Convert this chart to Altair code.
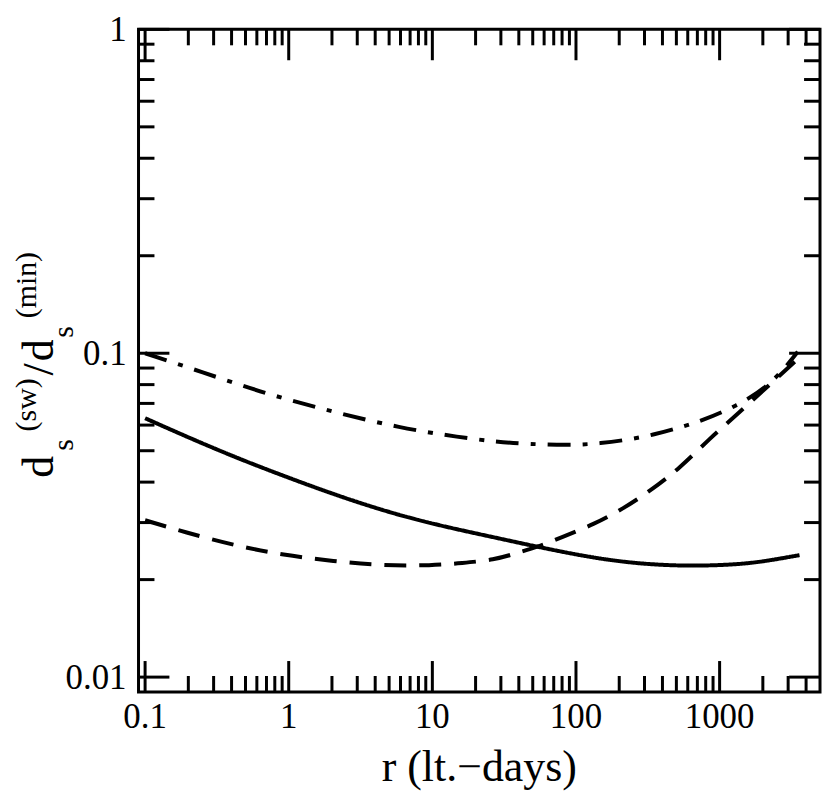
import altair as alt
import pandas as pd

# ---------------- data ----------------
series_names = ["solid", "dashed", "dashdot"]

solid_r = [0.1, 0.19, 0.42, 0.92, 2.05, 4.5, 10, 27, 55, 133, 295, 650, 1450, 2340, 3600]
solid_d = [0.063, 0.0555, 0.0478, 0.0418, 0.0367, 0.0327, 0.0297, 0.0270, 0.0252, 0.0233,
           0.0223, 0.0220, 0.0223, 0.0230, 0.0238]

dashed_r = [0.1, 0.19, 0.42, 0.92, 2.05, 4.5, 10, 16, 27, 39, 54, 79, 133, 215, 329, 530,
            850, 1340, 2300, 3500]
dashed_d = [0.0305, 0.0280, 0.0255, 0.0238, 0.0228, 0.0221, 0.0221, 0.0225, 0.0230, 0.0242,
            0.0252, 0.0270, 0.0296, 0.0332, 0.0376, 0.0442, 0.0545, 0.0650, 0.0810, 0.0960]

dashdot_r = [0.1, 0.245, 0.71, 2.05, 5.9, 16, 27, 46, 97, 148, 226, 347, 515, 760, 1300,
             2300, 3500]
dashdot_d = [0.100, 0.0877, 0.0747, 0.0659, 0.0588, 0.0549, 0.0534, 0.0524, 0.0520, 0.0527,
             0.0540, 0.0560, 0.0588, 0.0620, 0.0685, 0.0800, 0.1010]

x_major = [0.1, 1, 10, 100, 1000]
x_labels = ["0.1", "1", "10", "100", "1000"]
x_minor = [0.2, 0.3, 0.4, 0.5, 0.6, 0.7, 0.8, 0.9,
           2, 3, 4, 5, 6, 7, 8, 9,
           20, 30, 40, 50, 60, 70, 80, 90,
           200, 300, 400, 500, 600, 700, 800, 900,
           2000, 3000, 4000]
y_major = [0.01, 0.1, 1]
y_labels = ["0.01", "0.1", "1"]
y_minor = [0.02, 0.03, 0.04, 0.05, 0.06, 0.07, 0.08, 0.09,
           0.2, 0.3, 0.4, 0.5, 0.6, 0.7, 0.8, 0.9]

x_title = "r (lt.\u2212days)"
y_title_parts = ["d", "s", "(sw)", "/", "d", "s", "(min)"]

# ---------------- layout / style ----------------
W, H = 684, 665
FONT = "Liberation Serif"
MAJ, MIN = 31, 16

rows = []
for name, xs, ys in zip(series_names, [solid_r, dashed_r, dashdot_r],
                        [solid_d, dashed_d, dashdot_d]):
    for k, (a, b) in enumerate(zip(xs, ys)):
        rows.append({"series": name, "r": a, "d": b, "i": k})
df = pd.DataFrame(rows)

xscale = alt.Scale(type="log", domain=[0.09, 5000], nice=False)
yscale = alt.Scale(type="log", domain=[0.009, 1], nice=False)

lines = alt.Chart(df).mark_line(
    strokeWidth=4, color="black", strokeCap="butt", interpolate="basis"
).encode(
    x=alt.X("r:Q", scale=xscale, axis=None),
    y=alt.Y("d:Q", scale=yscale, axis=None),
    strokeDash=alt.StrokeDash("series:N",
                              scale=alt.Scale(domain=series_names,
                                              range=[[1, 0], [22, 13], [23, 12, 5, 12]]),
                              legend=None),
    order="i:Q",
)


def xticks(vals, length):
    d = pd.DataFrame({"v": vals})
    base = alt.Chart(d).mark_rule(color="black", strokeWidth=3)
    enc_x = alt.X("v:Q", scale=xscale, axis=None)
    return [
        base.encode(x=enc_x, y=alt.value(H), y2=alt.value(H - length)),
        base.encode(x=enc_x, y=alt.value(0), y2=alt.value(length)),
    ]


def yticks(vals, length):
    d = pd.DataFrame({"v": vals})
    base = alt.Chart(d).mark_rule(color="black", strokeWidth=3)
    enc_y = alt.Y("v:Q", scale=yscale, axis=None)
    return [
        base.encode(y=enc_y, x=alt.value(0), x2=alt.value(length)),
        base.encode(y=enc_y, x=alt.value(W), x2=alt.value(W - length)),
    ]


def txt(s, px, py, size, angle=270, align="left", baseline="alphabetic"):
    return alt.Chart(alt.Data(values=[{}])).mark_text(
        text=s, font=FONT, fontSize=size, angle=angle, align=align,
        baseline=baseline, color="black"
    ).encode(x=alt.value(px), y=alt.value(py))


ticks = xticks(x_major, MAJ) + xticks(x_minor, MIN) + yticks(y_major, MAJ) + yticks(y_minor, MIN)

# tick labels drawn from the scales
xlab = alt.Chart(pd.DataFrame({"v": x_major, "lab": x_labels})).mark_text(
    font=FONT, fontSize=35, baseline="top", align="center", color="black"
).encode(x=alt.X("v:Q", scale=xscale, axis=None), y=alt.value(H + 8), text="lab:N")

ylab = alt.Chart(pd.DataFrame({"v": y_major, "lab": y_labels})).mark_text(
    font=FONT, fontSize=35, baseline="middle", align="right", color="black", dy=1
).encode(y=alt.Y("v:Q", scale=yscale, axis=None), x=alt.value(-12), text="lab:N")

# y title pieces: main size 44, scripts size 30
main_x, sub_x, sup_x = -85.7, -65.7, -102.7
texts = [
    txt(y_title_parts[0], main_x, 450, 44),
    txt(y_title_parts[1], sub_x, 423, 30),
    txt(y_title_parts[2], sup_x, 403.5, 30),
    txt(y_title_parts[3], main_x, 347.5, 44),
    txt(y_title_parts[4], main_x, 333, 44),
    txt(y_title_parts[5], sub_x, 309.5, 30),
    txt(y_title_parts[6], sup_x, 290, 30),
    txt(x_title, W / 2, H + 89, 44, angle=0, align="center"),
]

chart = alt.layer(lines, *ticks, xlab, ylab, *texts).properties(
    width=W, height=H,
    autosize=alt.AutoSizeParams(type="none"),
    padding={"left": 131, "top": 20, "right": 2, "bottom": 98},
    background="white",
).configure_view(stroke="black", strokeWidth=3)

chart.save("out.html", embed_options={"renderer": "svg", "actions": False})
